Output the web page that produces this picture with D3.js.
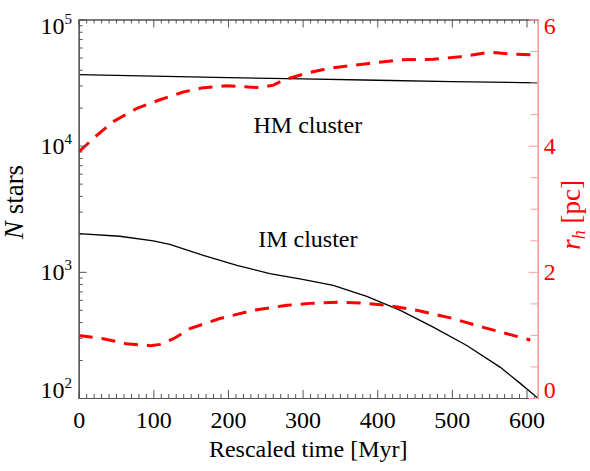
<!DOCTYPE html>
<html>
<head>
<meta charset="utf-8">
<script src="https://cdn.jsdelivr.net/npm/d3@7/dist/d3.min.js"></script>
<style>
  body { margin: 0; background: #fff; }
  svg { display: block; }
  svg text { font-family: "Liberation Serif", "Times New Roman", serif; }
</style>
</head>
<body>
<svg id="chart" width="590" height="471"></svg>
<script>
/********************** DATA *************************/
// HM cluster: number of stars (black) and half-mass radius (red dashed)
const hmTime = [0, 100, 200, 300, 400, 500, 615];
const hmStars = [36500, 35600, 34600, 33800, 33000, 32200, 31500];
const hmRhTime = [0, 22, 46, 78, 107, 140, 167, 198, 243, 261, 274, 306, 337, 386, 431, 475, 511, 551, 583, 615];
const hmRh = [3.90, 4.14, 4.38, 4.59, 4.72, 4.85, 4.92, 4.95, 4.92, 4.96, 5.04, 5.15, 5.23, 5.30, 5.36, 5.37, 5.41, 5.48, 5.45, 5.44];

// IM cluster
const imTime = [0, 55, 100, 122, 167, 212, 256, 300, 341, 386, 431, 475, 520, 565, 592, 615];
const imStars = [2010, 1915, 1760, 1653, 1352, 1127, 968, 870, 782, 640, 495, 365, 261, 175, 130, 100];
const imRhTime = [0, 33, 64, 96, 109, 127, 149, 189, 234, 279, 310, 350, 386, 413, 453, 498, 542, 605];
const imRh = [0.99, 0.94, 0.86, 0.83, 0.85, 0.94, 1.10, 1.26, 1.39, 1.47, 1.50, 1.52, 1.50, 1.47, 1.39, 1.27, 1.12, 0.92];

// Axis ticks and labels
const xTicks = [0, 100, 200, 300, 400, 500, 600];
const leftTicks = [1e2, 1e3, 1e4, 1e5];
const leftExponents = ["2", "3", "4", "5"];
const rightTicks = [0, 2, 4, 6];
const clusterNames = ["HM cluster", "IM cluster"];
const clusterAt = [[307, 12600], [307, 1560]]; // [time, N stars] of label baseline

/********************** LAYOUT *************************/
const svg = d3.select('#chart');
const box = { left: 78.7, right: 537.7, top: 19.5, bottom: 398 };
const axisGray = '#555';
const axisPink = '#ff9a9a';

const x = d3.scaleLinear().domain([0, 615]).range([box.left, box.right]);
const yLeft = d3.scaleLog().domain([100, 1e5]).range([box.bottom, box.top]);
const yRight = d3.scaleLinear().domain([0, 6]).range([box.bottom, box.top]);

// Minor ticks
const xMinor = d3.range(0, 615, 10).filter(v => v % 100 !== 0);
const leftMinor = [];
[1e2, 1e3, 1e4].forEach(dec => d3.range(2, 10).forEach(k => leftMinor.push(k * dec)));
const rightMinor = d3.range(0.5, 6, 0.5).filter(v => v % 2 !== 0);

// keep end labels inside the frame like the original plot
const clampBaseline = (yPos) => Math.min(box.bottom, Math.max(box.top + 14, yPos + 8));

/********************** CURVES *************************/
svg.append('clipPath').attr('id', 'clip')
  .append('rect')
  .attr('x', box.left).attr('y', box.top)
  .attr('width', box.right - box.left).attr('height', box.bottom - box.top);

const plotArea = svg.append('g').attr('clip-path', 'url(#clip)');

const starLine = d3.line()
  .x(d => x(d[0]))
  .y(d => yLeft(d[1]));
const rhLine = d3.line()
  .x(d => x(d[0]))
  .y(d => yRight(d[1]));

plotArea.append('path')
  .datum(d3.zip(hmTime, hmStars))
  .attr('d', starLine)
  .attr('fill', 'none').attr('stroke', '#000').attr('stroke-width', 1.3);

plotArea.append('path')
  .datum(d3.zip(imTime, imStars))
  .attr('d', starLine)
  .attr('fill', 'none').attr('stroke', '#000').attr('stroke-width', 1.3);

[d3.zip(hmRhTime, hmRh), d3.zip(imRhTime, imRh)].forEach(series => {
  plotArea.append('path')
    .datum(series)
    .attr('d', rhLine)
    .attr('fill', 'none')
    .attr('stroke', '#ff0000')
    .attr('stroke-width', 3)
    .attr('stroke-dasharray', '14,9');
});

/********************** AXES *************************/
const styleAxis = (g, color) => {
  g.select('.domain').attr('stroke', color).attr('stroke-width', 1.2);
  g.selectAll('.tick line').attr('stroke', color);
};

// bottom
const bottomMajor = svg.append('g')
  .attr('transform', `translate(0,${box.bottom})`)
  .call(d3.axisBottom(x).tickValues(xTicks).tickSizeInner(-8).tickSizeOuter(0).tickPadding(13));
styleAxis(bottomMajor, axisGray);
bottomMajor.selectAll('text').attr('font-size', 24).attr('fill', '#000');
svg.append('g')
  .attr('transform', `translate(0,${box.bottom})`)
  .call(d3.axisBottom(x).tickValues(xMinor).tickFormat('').tickSize(-4))
  .call(g => styleAxis(g, axisGray));

// top
svg.append('g')
  .attr('transform', `translate(0,${box.top})`)
  .call(d3.axisTop(x).tickValues(xTicks).tickFormat('').tickSizeInner(-8).tickSizeOuter(0))
  .call(g => styleAxis(g, axisGray));
svg.append('g')
  .attr('transform', `translate(0,${box.top})`)
  .call(d3.axisTop(x).tickValues(xMinor).tickFormat('').tickSize(-4))
  .call(g => styleAxis(g, axisGray));

// left (log)
svg.append('g')
  .attr('transform', `translate(${box.left},0)`)
  .call(d3.axisLeft(yLeft).tickValues(leftTicks).tickFormat('').tickSizeInner(-8).tickSizeOuter(0))
  .call(g => styleAxis(g, axisGray));
svg.append('g')
  .attr('transform', `translate(${box.left},0)`)
  .call(d3.axisLeft(yLeft).tickValues(leftMinor).tickFormat('').tickSize(-4))
  .call(g => styleAxis(g, axisGray));

leftTicks.forEach((v, i) => {
  const t = svg.append('text')
    .attr('x', 72)
    .attr('y', clampBaseline(yLeft(v)))
    .attr('text-anchor', 'end')
    .attr('font-size', 24)
    .attr('fill', '#000');
  t.append('tspan').text('10');
  t.append('tspan').attr('font-size', 15).attr('dy', -10).text(leftExponents[i]);
});

// right (linear, red)
svg.append('g')
  .attr('transform', `translate(${box.right},0)`)
  .call(d3.axisRight(yRight).tickValues(rightTicks).tickFormat('').tickSizeInner(-9).tickSizeOuter(0))
  .call(g => styleAxis(g, axisPink));
svg.append('g')
  .attr('transform', `translate(${box.right},0)`)
  .call(d3.axisRight(yRight).tickValues(rightMinor).tickFormat('').tickSize(-7))
  .call(g => styleAxis(g, axisPink));

rightTicks.forEach(v => {
  svg.append('text')
    .attr('x', box.right + 6)
    .attr('y', clampBaseline(yRight(v)))
    .attr('font-size', 24)
    .attr('fill', '#ff0000')
    .text(v);
});

/********************** TITLES *************************/
svg.append('text')
  .attr('x', (box.left + box.right) / 2)
  .attr('y', 457)
  .attr('text-anchor', 'middle')
  .attr('font-size', 24)
  .text('Rescaled time [Myr]');

const yTitle = svg.append('text')
  .attr('transform', 'translate(23,202) rotate(-90)')
  .attr('text-anchor', 'middle')
  .attr('font-size', 27);
yTitle.append('tspan').attr('font-style', 'italic').text('N');
yTitle.append('tspan').text(' stars');

const rTitle = svg.append('text')
  .attr('transform', 'translate(580,215) rotate(-90)')
  .attr('text-anchor', 'middle')
  .attr('font-size', 27)
  .attr('fill', '#ff0000');
rTitle.append('tspan').attr('font-style', 'italic').text('r');
rTitle.append('tspan').attr('font-style', 'italic').attr('font-size', 18).attr('dy', 5).text('h');
rTitle.append('tspan').attr('dy', -5).text(' [pc]');

clusterNames.forEach((name, i) => {
  svg.append('text')
    .attr('x', x(clusterAt[i][0]))
    .attr('y', yLeft(clusterAt[i][1]))
    .attr('text-anchor', 'middle')
    .attr('font-size', 24)
    .text(name);
});
</script>
</body>
</html>
